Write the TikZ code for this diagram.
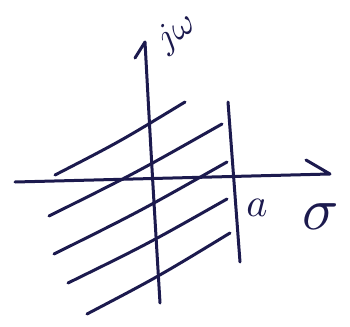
\documentclass[tikz,border=0pt]{standalone}
\definecolor{ink}{HTML}{1C1A4E}
\begin{document}
\begin{tikzpicture}[x=1pt,y=-1pt,
  stroke/.style={draw=ink,line width=3pt,line cap=round,line join=round},
  hatch/.style={stroke},
  lbl/.style={text=ink,inner sep=0pt}]
\useasboundingbox[fill=white] (0,0) rectangle (350,326);
% axes
\coordinate (xl) at (15,182);
\coordinate (xr) at (330,174);
\coordinate (xbarb) at (306,160);
\coordinate (yb) at (160,303);
\coordinate (yt) at (145,42);
\coordinate (ybarb) at (135,58);
\draw[stroke] (xl) -- (xr) -- (xbarb);
\draw[stroke] (yb) .. controls (152,170) .. (yt) -- (ybarb);
% boundary line at a
\coordinate (at) at (228,102);
\coordinate (ab) at (240,262);
\draw[stroke] (at) -- (ab);
% hatching
\coordinate (h1a) at (55,175);  \coordinate (h1b) at (185,102);
\coordinate (h2a) at (49,216);  \coordinate (h2b) at (222,124);
\coordinate (h3a) at (54,254);  \coordinate (h3b) at (227,162);
\coordinate (h4a) at (68,283);  \coordinate (h4b) at (227,199);
\coordinate (h5a) at (87,314);  \coordinate (h5b) at (230,233);
\draw[hatch] (h1a) .. controls (120,141.5) .. (h1b);
\draw[hatch] (h2a) .. controls (135.5,173) .. (h2b);
\draw[hatch] (h3a) .. controls (140.5,211) .. (h3b);
\draw[hatch] (h4a) .. controls (147.5,244) .. (h4b);
\draw[hatch] (h5a) .. controls (158.5,276.5) .. (h5b);
% labels
\node[lbl,rotate=35,scale=3.6] (jw) at (177,33) {$j\omega$};
\node[lbl,scale=4] (alab) at (257,208) {$a$};
\node[lbl,scale=6] (sig) at (321,217) {$\sigma$};
\end{tikzpicture}
\end{document}
